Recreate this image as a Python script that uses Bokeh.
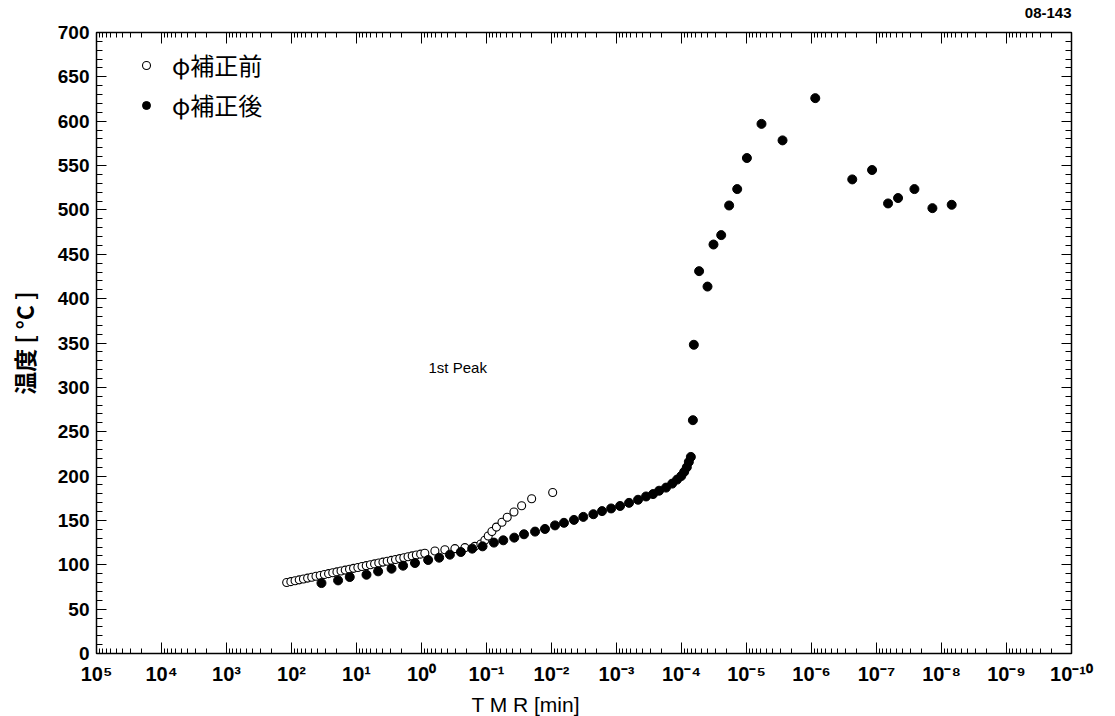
from bokeh.plotting import figure
from bokeh.models import (Range1d, LogAxis, LinearAxis, FixedTicker, SingleIntervalTicker,
                          CustomJSTickFormatter, Legend, LegendItem, Label, CustomLabelingPolicy)
from bokeh.embed import file_html
from bokeh.resources import INLINE

# φ補正前 (open circles)
before_tmr = [118.6, 102.3, 88.1, 76.0, 65.5, 56.5, 48.8, 42.0, 36.2, 31.2, 26.9, 23.2,
              20.0, 17.3, 14.9, 12.8, 11.1, 9.53, 8.22, 7.08, 6.11, 5.27, 4.54, 3.92,
              3.37, 2.91, 2.51, 2.16, 1.87, 1.61, 1.39, 1.20, 1.03, 0.889, 0.622, 0.437,
              0.306, 0.215, 0.151, 0.122, 0.106, 0.0941, 0.0826, 0.0704, 0.0578, 0.0480,
              0.0378, 0.0288, 0.0202, 0.00959]
before_temp = [80, 81, 82, 83, 84, 85, 86, 87, 88, 89, 90, 91, 92, 93, 94, 95, 96, 97,
               98, 99, 100, 101, 102, 103, 104, 105, 106, 107, 108, 109, 110, 111, 112, 113,
               115.5, 117, 118.2, 119.3, 120.8, 123.5, 127.6, 132.5, 137.5, 142.5, 148,
               153.5, 159.5, 166.5, 174.5, 181.5]

# φ補正後 (filled circles)
after_tmr = [34.6, 19.2, 12.7, 7.02, 4.65, 2.89, 1.92, 1.26, 0.790, 0.535, 0.366, 0.248,
             0.166, 0.115, 0.0769, 0.0552, 0.0374, 0.0265, 0.0179, 0.0126, 0.00883, 0.00643,
             0.00451, 0.00324, 0.00227, 0.00167, 0.00121, 0.000881, 0.000641, 0.000466,
             0.000351, 0.000274, 0.000221, 0.000173, 0.000139, 0.000117, 0.000101, 9.10e-5,
             8.28e-5, 7.71e-5, 7.18e-5, 6.68e-5, 6.46e-5, 5.36e-5, 3.98e-5, 3.22e-5, 2.45e-5,
             1.85e-5, 1.39e-5, 9.86e-6, 5.88e-6, 2.79e-6, 8.75e-7, 2.36e-7, 1.17e-7, 6.64e-8,
             4.66e-8, 2.61e-8, 1.38e-8, 6.97e-9]
after_temp = [79.4, 82.4, 86.2, 88.8, 92.6, 95.6, 99, 102, 105.4, 108, 111.4, 114.4, 118.2,
              120.8, 125, 127.6, 130.6, 134.4, 137.4, 140.4, 144.4, 147.3, 150.6, 154, 157,
              160.5, 163.5, 166.3, 169.8, 173.3, 177, 179.7, 183.5, 187, 191.5, 196, 200,
              204.7, 210, 216, 221.6, 263, 348, 431, 413.6, 461, 471.6, 505, 523.5, 558.5,
              597, 578.4, 626, 534.4, 545, 507.3, 513.4, 523.5, 502, 505.8]

x_exponents = list(range(-10, 6))
x_major = [10.0 ** k for k in x_exponents]
x_minor = [m * 10.0 ** k for k in range(-10, 5) for m in range(2, 10)]

TICK_FONT = "Liberation Sans"
JP_FONT = "Noto Sans CJK JP"

p = figure(frame_width=975, frame_height=621, x_axis_type="log",
           x_range=Range1d(1e5, 1e-10), y_range=Range1d(0, 700),
           title="08-143",
           output_backend="svg", toolbar_location=None,
           min_border_left=96, min_border_right=36, min_border_top=32, min_border_bottom=55,
           background_fill_color="white", border_fill_color="white")
p.title.align = "right"
p.title.text_font = TICK_FONT
p.title.text_font_size = "15px"
p.title.text_font_style = "bold"
p.title.text_color = "black"
p.title.standoff = 0
p.xgrid.visible = False
p.ygrid.visible = False
p.outline_line_color = "black"
p.outline_line_width = 1.5

sup_code = """
const e = Math.round(Math.log10(tick));
const sup = {'-':'\u207b','0':'\u2070','1':'\u00b9','2':'\u00b2','3':'\u00b3','4':'\u2074',
             '5':'\u2075','6':'\u2076','7':'\u2077','8':'\u2078','9':'\u2079'};
return '10' + String(e).split('').map(c => sup[c]).join('');
"""

no_labels = "const a = [...indices]; for (const i of a) indices.unset(i); return indices;"

def style_common(ax):
    ax.major_tick_out = 0
    ax.minor_tick_out = 0
    ax.axis_line_color = "black"
    ax.major_tick_line_color = "black"
    ax.minor_tick_line_color = "black"

def style_x(ax, labels=True):
    ax.ticker = FixedTicker(ticks=x_major, minor_ticks=x_minor)
    ax.major_tick_in = 11
    ax.minor_tick_in = 5
    style_common(ax)
    ax.formatter = CustomJSTickFormatter(code=sup_code)
    if labels:
        ax.major_label_text_font = TICK_FONT
        ax.major_label_text_font_size = "20px"
        ax.major_label_text_font_style = "bold"
        ax.major_label_text_color = "black"
        ax.major_label_standoff = 9
    else:
        ax.major_label_policy = CustomLabelingPolicy(code=no_labels)
        ax.major_label_standoff = 0

def style_y(ax, labels=True):
    ax.ticker = SingleIntervalTicker(interval=50, num_minor_ticks=5)
    ax.major_tick_in = 10
    ax.minor_tick_in = 6
    style_common(ax)
    if labels:
        ax.major_label_text_font = TICK_FONT
        ax.major_label_text_font_size = "19px"
        ax.major_label_text_font_style = "bold"
        ax.major_label_text_color = "black"
        ax.major_label_standoff = 7
    else:
        ax.major_label_policy = CustomLabelingPolicy(code=no_labels)
        ax.major_label_standoff = 0

style_x(p.xaxis[0])
p.xaxis[0].axis_label = "T M R  [min]" + "\u00a0" * 19
p.xaxis[0].axis_label_text_font = TICK_FONT
p.xaxis[0].axis_label_text_font_size = "21px"
p.xaxis[0].axis_label_text_font_style = "normal"
p.xaxis[0].axis_label_text_color = "black"
p.xaxis[0].axis_label_standoff = 5

style_y(p.yaxis[0])
p.yaxis[0].axis_label = "温度 [ °C ]"
p.yaxis[0].axis_label_text_font = JP_FONT
p.yaxis[0].axis_label_text_font_size = "23px"
p.yaxis[0].axis_label_text_font_style = "bold"
p.yaxis[0].axis_label_text_color = "black"
p.yaxis[0].axis_label_standoff = 14

top = LogAxis()
style_x(top, labels=False)
p.add_layout(top, "above")
right = LinearAxis()
style_y(right, labels=False)
p.add_layout(right, "right")

r_before = p.scatter(before_tmr, before_temp, marker="circle", size=8,
                     fill_color="white", line_color="black", line_width=1.1)
r_after = p.scatter(after_tmr, after_temp, marker="circle", size=9,
                    fill_color="black", line_color="black")

legend = Legend(items=[LegendItem(label="φ補正前", renderers=[r_before]),
                       LegendItem(label="φ補正後", renderers=[r_after])],
                location=(40, 531), padding=0, margin=0, spacing=5,
                label_height=30, glyph_height=30, glyph_width=20, label_standoff=16,
                border_line_color=None, background_fill_alpha=0,
                label_text_font=JP_FONT, label_text_font_size="24px",
                label_text_color="black")
p.add_layout(legend)

p.add_layout(Label(x=0.78, y=322, text="1st Peak", text_font=TICK_FONT,
                   text_font_size="15px", text_baseline="middle", text_color="black"))

open("out.html", "w").write(file_html(p, INLINE))
